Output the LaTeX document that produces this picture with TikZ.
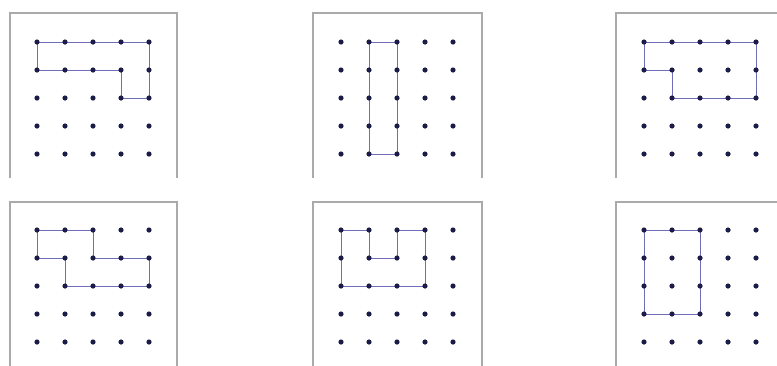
\documentclass[tikz,border=0pt]{standalone}
\usepackage{tikz}
\usetikzlibrary{positioning,backgrounds}
\definecolor{GradeDot}{RGB}{28,28,72}
\definecolor{GradeLinha}{RGB}{110,110,185}
\definecolor{GradeMoldura}{RGB}{170,170,170}
\tikzset{
  ponto/.style={circle, fill=GradeDot, inner sep=0pt, minimum size=5.2pt},
  contorno/.style={GradeLinha, line width=0.8pt, line join=miter},
  moldura/.style={GradeMoldura, line width=1.4pt},
}

\begin{document}
\begin{tikzpicture}[x=1pt, y=-1pt]
  \useasboundingbox (0,0) rectangle (777,365);

  % Linha de cima
  \begin{scope}[shift={(10,13)}]
    \draw[moldura] (0,165) -- (0,0) -- (167,0) -- (167,165);
    \foreach \i in {0,...,4}
      \foreach \j in {0,...,4}
        \node[ponto] (a\i\j) at ({27+28*\i},{29+28*\j}) {};
    \begin{scope}[on background layer]
      \draw[contorno] (a00.center) -- (a40.center) -- (a42.center) -- (a32.center)
        -- (a31.center) -- (a01.center) -- cycle;
    \end{scope}
  \end{scope}

  \begin{scope}[shift={(313,13)}]
    \draw[moldura] (0,165) -- (0,0) -- (169,0) -- (169,165);
    \foreach \i in {0,...,4}
      \foreach \j in {0,...,4}
        \node[ponto] (b\i\j) at ({28+28*\i},{29+28*\j}) {};
    \begin{scope}[on background layer]
      \draw[contorno] (b10.center) -- (b20.center) -- (b24.center) -- (b14.center) -- cycle;
    \end{scope}
  \end{scope}

  \begin{scope}[shift={(616,13)}]
    \draw[moldura] (0,165) -- (0,0) -- (169,0) -- (169,165);
    \foreach \i in {0,...,4}
      \foreach \j in {0,...,4}
        \node[ponto] (c\i\j) at ({28+28*\i},{29+28*\j}) {};
    \begin{scope}[on background layer]
      \draw[contorno] (c00.center) -- (c40.center) -- (c42.center) -- (c12.center)
        -- (c11.center) -- (c01.center) -- cycle;
    \end{scope}
  \end{scope}

  % Linha de baixo
  \begin{scope}[shift={(10,202)}]
    \draw[moldura] (0,170) -- (0,0) -- (167,0) -- (167,170);
    \foreach \i in {0,...,4}
      \foreach \j in {0,...,4}
        \node[ponto] (d\i\j) at ({27+28*\i},{28+28*\j}) {};
    \begin{scope}[on background layer]
      \draw[contorno] (d00.center) -- (d20.center) -- (d21.center) -- (d41.center)
        -- (d42.center) -- (d12.center) -- (d11.center) -- (d01.center) -- cycle;
    \end{scope}
  \end{scope}

  \begin{scope}[shift={(313,202)}]
    \draw[moldura] (0,170) -- (0,0) -- (169,0) -- (169,170);
    \foreach \i in {0,...,4}
      \foreach \j in {0,...,4}
        \node[ponto] (e\i\j) at ({28+28*\i},{28+28*\j}) {};
    \begin{scope}[on background layer]
      \draw[contorno] (e00.center) -- (e10.center) -- (e11.center) -- (e21.center)
        -- (e20.center) -- (e30.center) -- (e32.center) -- (e02.center) -- cycle;
    \end{scope}
  \end{scope}

  \begin{scope}[shift={(616,202)}]
    \draw[moldura] (0,170) -- (0,0) -- (169,0) -- (169,170);
    \foreach \i in {0,...,4}
      \foreach \j in {0,...,4}
        \node[ponto] (f\i\j) at ({28+28*\i},{28+28*\j}) {};
    \begin{scope}[on background layer]
      \draw[contorno] (f00.center) -- (f20.center) -- (f23.center) -- (f03.center) -- cycle;
    \end{scope}
  \end{scope}
\end{tikzpicture}
\end{document}
